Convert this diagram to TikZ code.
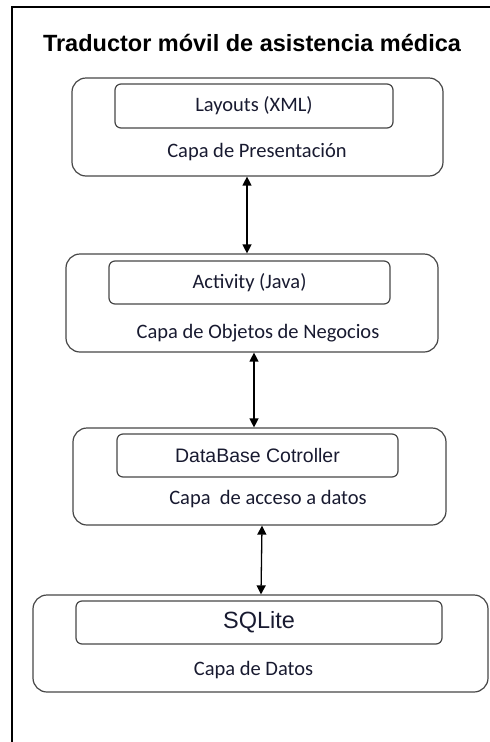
\documentclass[tikz,border=0pt]{standalone}
\usepackage{fontspec}
\setmainfont{Carlito}
\newfontfamily\arialfont{Liberation Sans}
\usetikzlibrary{arrows.meta}
\definecolor{textink}{RGB}{24,26,48}
\definecolor{boxline}{RGB}{70,70,70}
\tikzset{
  layer/.style={draw=boxline, line width=1.2pt, rounded corners=14pt, inner sep=0pt},
  part/.style={draw=boxline, line width=1.2pt, rounded corners=6pt, inner sep=0pt,
    text=textink, font=\fontsize{20.5}{24}\selectfont},
  caption/.style={inner sep=0pt, text=textink, font=\fontsize{20.5}{24}\selectfont},
  link/.style={line width=1.3pt, {Triangle[width=9pt,length=9pt]}-{Triangle[width=9pt,length=9pt]}}
}
\begin{document}
\begin{tikzpicture}[x=1pt,y=-1pt]
  \useasboundingbox (0,0) rectangle (490,742);
  % page frame (left and top rules)
  \draw[line width=2pt] (12,742) -- (12,6);
  \draw[line width=1.6pt] (12,7) -- (490,7);
  % title
  \node[inner sep=0pt, font=\arialfont\bfseries\fontsize{23.5}{28}\selectfont] (title) at (252,43)
    {Traductor móvil de asistencia médica};

  % presentation layer
  \node[layer, minimum width=371pt, minimum height=98pt] (l1) at (257.5,127) {};
  \node[part, minimum width=278pt, minimum height=44pt] (p1) at (254,106) {Layouts (XML)};
  \node[caption] (c1) at (257,152) {Capa de Presentación};

  % business objects layer
  \node[layer, minimum width=372pt, minimum height=98pt] (l2) at (252,303) {};
  \node[part, minimum width=281pt, minimum height=43pt] (p2) at (249.5,282.5) {Activity (Java)};
  \node[caption] (c2) at (258,333) {Capa de Objetos de Negocios};

  % data access layer
  \node[layer, minimum width=373pt, minimum height=97pt] (l3) at (259.5,476.5) {};
  \node[part, minimum width=281pt, minimum height=43pt, font=\arialfont\fontsize{19.5}{23}\selectfont]
    (p3) at (257.5,455.5) {DataBase Cotroller};
  \node[caption] (c3) at (268,499) {Capa\ \ de acceso a datos};

  % data layer
  \node[layer, minimum width=455pt, minimum height=97pt] (l4) at (260.5,643.5) {};
  \node[part, minimum width=366pt, minimum height=43pt, font=\arialfont\fontsize{23.5}{28}\selectfont]
    (p4) at (259,622.5) {SQLite};
  \node[caption] (c4) at (253.5,670) {Capa de Datos};

  % connectors between layers
  \draw[link] ([xshift=-10.5pt]l1.south) -- ([xshift=-5pt]l2.north);
  \draw[link] ([xshift=2pt]l2.south) -- ([xshift=-5.5pt]l3.north);
  \draw[link] ([xshift=2.5pt]l3.south) -- ([xshift=0.5pt]l4.north);
\end{tikzpicture}
\end{document}
